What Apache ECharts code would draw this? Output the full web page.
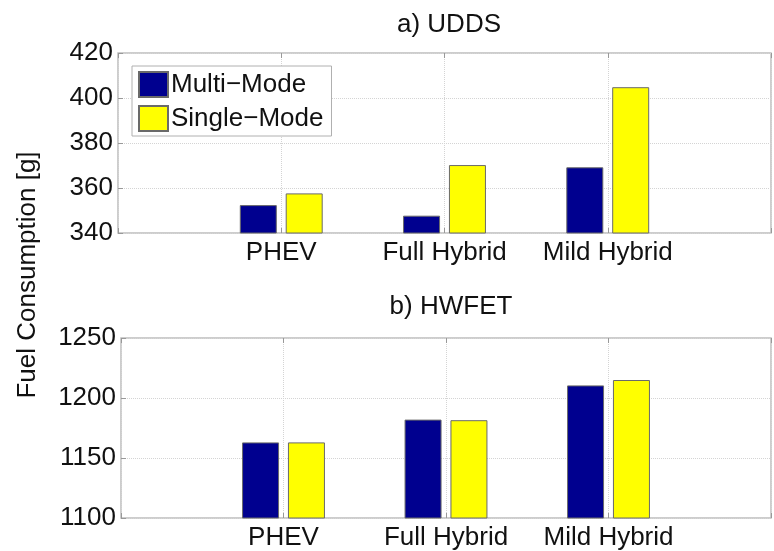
<!DOCTYPE html>
<html>
<head>
<meta charset="utf-8">
<script src="https://cdn.jsdelivr.net/npm/echarts@6/dist/echarts.min.js"></script>
<style>
  html, body { margin: 0; padding: 0; background: #fff; }
  #container { width: 774px; height: 551px; }
</style>
</head>
<body>
<div id="container"></div>
<script>
// categories and series values
var categories = ['PHEV', 'Full Hybrid', 'Mild Hybrid']
var seriesNames = ['Multi\u2212Mode', 'Single\u2212Mode']
var uddsMulti = [352.4, 347.7, 369.2]
var uddsSingle = [357.6, 370.2, 404.8]
var hwfetMulti = [1163, 1182, 1210.5]
var hwfetSingle = [1163, 1181.5, 1215]
var uddsTicks = [340, 420, 20]
var hwfetTicks = [1100, 1250, 50]

var font = "'Liberation Sans', Arial, Helvetica, sans-serif"
var fsize = 26
var blue = '#00008f'
var yellow = '#ffff00'
var boxColor = '#bdbdbd'

var dom = document.getElementById('container')
var myChart = echarts.init(dom)

// turn a list of values into [x, y] pairs at positions 1..n
function toPairs(vals) {
    var out = []
    for (var i = 0; i < vals.length; i++) {
        out.push([i + 1, vals[i]])
    }
    return out
}

function xAxisFor(gridIndex, pos) {
    return {
        type: 'value',
        gridIndex: gridIndex,
        position: pos,
        min: 0,
        max: categories.length + 1,
        interval: 1,
        axisLine: { show: false },
        axisTick: { show: true, inside: true, length: 5, lineStyle: { color: '#999' } },
        axisLabel: {
            show: pos == 'bottom',
            margin: 7,
            color: '#111',
            fontFamily: font,
            fontSize: fsize,
            formatter: function (v) { return categories[v - 1] || '' }
        },
        splitLine: { show: pos == 'bottom', lineStyle: { type: 'dotted', color: '#d4d4d4' } }
    }
}

function yAxisFor(gridIndex, t) {
    return {
        type: 'value',
        gridIndex: gridIndex,
        min: t[0],
        max: t[1],
        interval: t[2],
        axisLine: { show: false },
        axisTick: { show: true, inside: true, length: 5, lineStyle: { color: '#999' } },
        axisLabel: {
            margin: 5, color: '#111', fontFamily: font, fontSize: fsize,
            formatter: function (v) { return String(v) }
        },
        splitLine: { show: true, lineStyle: { type: 'dotted', color: '#d4d4d4' } }
    }
}

function barSeries(name, vals, idx, color) {
    return {
        name: name,
        type: 'bar',
        xAxisIndex: idx * 2,
        yAxisIndex: idx,
        data: toPairs(vals),
        barWidth: 37,
        barGap: '24%',
        itemStyle: { color: color, borderColor: '#6a6a6a', borderWidth: 1 },
        emphasis: { disabled: true }
    }
}

var option = {
    animation: false,
    backgroundColor: '#fff',
    grid: [
        { left: 118, top: 53, width: 662, height: 180, show: true, borderColor: boxColor, borderWidth: 1.5, backgroundColor: 'transparent' },
        { left: 121, top: 338, width: 662, height: 180, show: true, borderColor: boxColor, borderWidth: 1.5, backgroundColor: 'transparent' }
    ],
    xAxis: [xAxisFor(0, 'bottom'), xAxisFor(0, 'top'), xAxisFor(1, 'bottom'), xAxisFor(1, 'top')],
    yAxis: [yAxisFor(0, uddsTicks), yAxisFor(1, hwfetTicks)],
    legend: {
        orient: 'vertical',
        left: 132,
        top: 66,
        padding: [5, 8, 4, 6],
        itemWidth: 29,
        itemHeight: 25,
        itemGap: 7,
        icon: 'rect',
        data: seriesNames,
        backgroundColor: '#fff',
        borderColor: '#b0b0b0',
        borderWidth: 1,
        borderRadius: 0,
        textStyle: { color: '#111', fontFamily: font, fontSize: fsize, padding: [0, 0, 0, -2] }
    },
    graphic: [
        { type: 'text', x: 449, y: 25, style: { text: 'a) UDDS', font: fsize + 'px ' + font, fill: '#111', align: 'center', verticalAlign: 'middle' } },
        { type: 'text', x: 451, y: 307, style: { text: 'b) HWFET', font: fsize + 'px ' + font, fill: '#111', align: 'center', verticalAlign: 'middle' } },
        { type: 'text', x: 28, y: 275, rotation: Math.PI / 2, style: { text: 'Fuel Consumption [g]', font: fsize + 'px ' + font, fill: '#111', align: 'center', verticalAlign: 'middle' } }
    ],
    series: [
        barSeries(seriesNames[0], uddsMulti, 0, blue),
        barSeries(seriesNames[1], uddsSingle, 0, yellow),
        barSeries(seriesNames[0], hwfetMulti, 1, blue),
        barSeries(seriesNames[1], hwfetSingle, 1, yellow)
    ]
}

myChart.setOption(option)
</script>
</body>
</html>
